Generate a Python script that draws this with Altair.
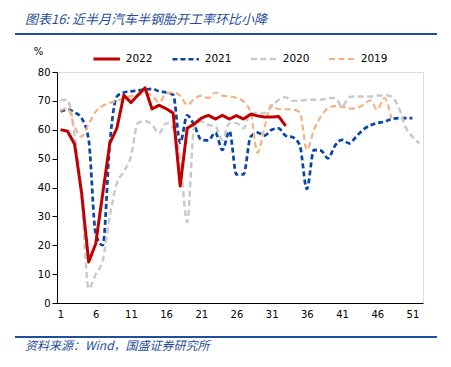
import altair as alt
import pandas as pd

years = ["2022", "2021", "2020", "2019"]
colors = ["#C00000", "#0A46A5", "#C9C9C9", "#F4B183"]
dashes = [[1, 0], [5, 3], [6, 3.5], [6, 3.5]]
widths = [3, 2.2, 2, 2]

x_ticks = [1, 6, 11, 16, 21, 26, 31, 36, 41, 46, 51]
y_ticks = [0, 10, 20, 30, 40, 50, 60, 70, 80]

v2022 = [60, 59.5, 55, 38, 14.2, 20.5, 38, 55.3, 60.5, 72, 69.4, 72, 74.5, 67.2,
         68.5, 67.3, 65.8, 40.5, 60.5, 62, 64, 65, 63.7, 65, 63.7, 64.9, 63.7,
         65.4, 64.8, 64.4, 64.4, 64.6, 61.3]
v2021 = [66.3, 67, 66, 64, 56.5, 24, 20, 55.3, 71.5, 72.9, 73.3, 73.6, 73.9, 74.2,
         73.3, 72.9, 72.1, 55.5, 65, 61.5, 56.5, 56.3, 59, 53, 59.5, 44.5, 44.5,
         57.5, 59, 58, 60, 60.5, 57.9, 57.4, 54.5, 39.5, 53, 52.8, 50.1, 54.5,
         56.5, 55.3, 57.6, 60, 61.5, 62.3, 62.8, 63.7, 64, 64, 64]
v2020 = [70.3, 70.3, 58, 37, 5, 10, 14.8, 30, 41.4, 45.5, 50.7, 62.3, 63, 61.7,
         58.8, 62.3, 60.5, 49.5, 28, 61, 62.9, 61.7, 61.1, 56.5, 62.3, 62.3, 60.5,
         65.8, 65.8, 65.8, 68, 70.4, 71.3, 70, 70, 70.4, 70.4, 70.4, 71, 71, 68,
         71.3, 71.5, 71.5, 71.5, 71.8, 72, 71.5, 68, 61, 57.6, 55.3]
v2019 = [66.6, 67.5, 61, 57.6, 62, 66.3, 68.3, 69.3, 70, 71, 71.7, 72, 72.8, 71.8,
         69.5, 72.5, 72.9, 71.8, 68.6, 70.6, 71.8, 71, 72.9, 71.8, 71.5, 71, 69.8,
         66, 52, 61, 68.6, 67.1, 67.1, 67, 66, 53, 60, 64.6, 67.5, 68.2, 68, 67.3,
         67.5, 68.6, 70.2, 67, 71, 64]

title_text = "图表16:  近半月汽车半钢胎开工率环比小降"
source_text = "资料来源：Wind，国盛证券研究所"
unit_text = "%"

rows = []
for yr, vals in zip(years, [v2022, v2021, v2020, v2019]):
    for i, v in enumerate(vals):
        rows.append({"week": i + 1, "value": v, "year": yr})
df = pd.DataFrame(rows)

FONT = "DejaVu Sans"
BLUE = "#1F4E9C"

leg = alt.Legend(orient="none", legendX=34.7, legendY=-28,
                 direction="horizontal", title=None,
                 symbolType="stroke", symbolSize=700,
                 labelFont=FONT, labelFontSize=10.5,
                 labelColor="#000", columnPadding=14,
                 labelOffset=4, padding=0)

enc = dict(
    x=alt.X("week:Q", scale=alt.Scale(domain=[0.5, 52.5], nice=False, zero=False),
            axis=alt.Axis(values=x_ticks, grid=False, ticks=False, title=None,
                          labelPadding=6, labelFontSize=10, labelFont=FONT,
                          labelColor="#000", domainColor="#000", labelFlush=False)),
    y=alt.Y("value:Q", scale=alt.Scale(domain=[0, 80], nice=False),
            axis=alt.Axis(values=y_ticks, grid=False, tickSize=5, title=None,
                          labelPadding=2, labelFontSize=10, labelFont=FONT,
                          labelColor="#000", domainColor="#000", tickColor="#000")),
    color=alt.Color("year:N", scale=alt.Scale(domain=years, range=colors), legend=leg),
    strokeDash=alt.StrokeDash("year:N", scale=alt.Scale(domain=years, range=dashes),
                              legend=leg),
    strokeWidth=alt.StrokeWidth("year:N", scale=alt.Scale(domain=years, range=widths),
                                legend=leg),
    order=alt.Order("week:Q"),
)

base = alt.Chart(df)
solid = base.transform_filter(alt.datum.year == "2022").mark_line(
    interpolate="linear", strokeJoin="round").encode(**enc)
dashed = base.transform_filter(alt.datum.year != "2022").mark_line(
    interpolate="monotone").encode(**enc)

one = pd.DataFrame({"t": [title_text], "s": [source_text], "u": [unit_text]})
title = alt.Chart(one).mark_text(align="left", baseline="middle", font="Noto Sans CJK SC",
                                 fontSize=13, fontStyle="italic", color=BLUE).encode(
    text="t:N", x=alt.value(-32), y=alt.value(-52))
source = alt.Chart(one).mark_text(align="left", baseline="middle", font="Noto Sans CJK SC",
                                  fontSize=12, fontStyle="italic", color=BLUE).encode(
    text="s:N", x=alt.value(-32), y=alt.value(274))
unit = alt.Chart(one).mark_text(align="center", baseline="middle", font=FONT,
                                fontSize=10, color="#000").encode(
    text="u:N", x=alt.value(-18.5), y=alt.value(-20.5))
top_line = alt.Chart(one).mark_rule(color=BLUE, strokeWidth=2).encode(
    x=alt.value(-42), x2=alt.value(380), y=alt.value(-38))
bot_line = alt.Chart(one).mark_rule(color=BLUE, strokeWidth=2).encode(
    x=alt.value(-42), x2=alt.value(380), y=alt.value(265))

chart = alt.layer(dashed, solid, title, source, unit, top_line, bot_line).properties(
    width=366, height=231,
    autosize=alt.AutoSizeParams(type="none"),
    padding={"left": 49, "top": 64, "right": 20, "bottom": 56},
).configure_view(stroke=None).configure(background="white")

chart.save("out.html", embed_options={"renderer": "svg", "actions": False})
